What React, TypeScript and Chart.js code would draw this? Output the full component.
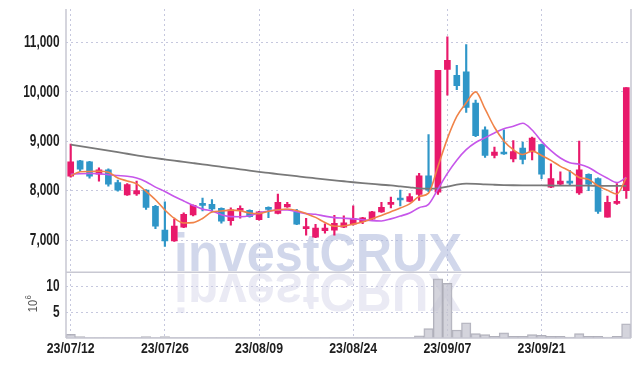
import React, { useEffect, useRef } from 'react';
import { Chart, registerables } from 'chart.js';

Chart.register(...registerables);

const dates = [
  '23/07/12', '23/07/13', '23/07/14', '23/07/17', '23/07/18', '23/07/19', '23/07/20', '23/07/21', '23/07/24', '23/07/25',
  '23/07/26', '23/07/27', '23/07/28', '23/07/31', '23/08/01', '23/08/02', '23/08/03', '23/08/04', '23/08/07', '23/08/08',
  '23/08/09', '23/08/10', '23/08/11', '23/08/14', '23/08/16', '23/08/17', '23/08/18', '23/08/21', '23/08/22', '23/08/23',
  '23/08/24', '23/08/25', '23/08/28', '23/08/29', '23/08/30', '23/08/31', '23/09/01', '23/09/04', '23/09/05', '23/09/06',
  '23/09/07', '23/09/08', '23/09/11', '23/09/12', '23/09/13', '23/09/14', '23/09/15', '23/09/18', '23/09/19', '23/09/20',
  '23/09/21', '23/09/22', '23/09/25', '23/09/26', '23/09/27', '23/10/04', '23/10/05', '23/10/06', '23/10/10', '23/10/11',
];

const openP = [
  8290, 8600, 8580, 8330, 8420, 8160, 7910, 7930, 8010, 7680,
  7200, 6980, 7260, 7510, 7720, 7720, 7640, 7390, 7600, 7600,
  7410, 7640, 7540, 7670, 7570, 7230, 7060, 7190, 7200, 7260,
  7320, 7370, 7420, 7570, 7720, 7830, 7780, 7920, 8300, 7970,
  10450, 10330, 10400, 9770, 9230, 8710, 8760, 8640, 8860, 8780,
  8930, 8070, 8130, 8170, 7950, 8330, 8240, 7460, 7740, 8000,
];
const highP = [
  8940, 8610, 8590, 8460, 8440, 8210, 8140, 8190, 8020, 7700,
  7770, 7420, 7550, 7710, 7850, 7820, 7650, 7650, 7690, 7610,
  7580, 7670, 7930, 7760, 7620, 7440, 7320, 7330, 7500, 7490,
  7690, 7460, 7580, 7760, 7870, 8010, 7940, 8350, 9130, 10430,
  11110, 10530, 10950, 9830, 9290, 8880, 9230, 9010, 8980, 9080,
  8940, 8540, 8380, 8410, 9000, 8340, 8260, 7890, 8140, 10080,
];
const lowP = [
  8270, 8380, 8250, 8190, 8090, 7990, 7900, 7900, 7620, 7230,
  6870, 6970, 7250, 7490, 7590, 7570, 7340, 7300, 7440, 7460,
  7400, 7450, 7530, 7660, 7310, 7100, 7050, 7140, 7100, 7250,
  7300, 7330, 7410, 7560, 7650, 7690, 7770, 7800, 7980, 7920,
  9930, 10040, 9580, 9090, 8670, 8660, 8730, 8580, 8540, 8620,
  8240, 8060, 8120, 8120, 7920, 8000, 7540, 7460, 7720, 7840,
];
const closeP = [
  8580, 8430, 8290, 8420, 8130, 8010, 8120, 8000, 7660, 7280,
  6980, 7280, 7520, 7700, 7700, 7630, 7380, 7610, 7640, 7470,
  7570, 7620, 7760, 7720, 7320, 7250, 7240, 7240, 7340, 7350,
  7440, 7450, 7570, 7660, 7740, 7810, 7880, 8300, 8010, 10430,
  10630, 10120, 9680, 9110, 8710, 8780, 8740, 8790, 8630, 9060,
  8330, 8240, 8190, 8150, 8420, 8130, 7580, 7760, 7760, 10080,
];
const ma5 = [
  8300, 8380, 8385, 8390, 8370, 8256, 8194, 8136, 7984, 7814,
  7608, 7440, 7344, 7352, 7436, 7566, 7586, 7604, 7592, 7546,
  7534, 7582, 7612, 7628, 7598, 7534, 7458, 7354, 7278, 7284,
  7322, 7364, 7430, 7494, 7572, 7646, 7732, 7878, 7948, 8486,
  9050, 9498, 9774, 9994, 9650, 9280, 9004, 8826, 8730, 8800,
  8710, 8610, 8490, 8394, 8266, 8226, 8094, 8008, 7930, 8262,
];
const ma10 = [
  8330, 8340, 8345, 8340, 8320, 8305, 8290, 8255, 8180, 8070,
  7980, 7880, 7790, 7700, 7625, 7587, 7513, 7474, 7472, 7491,
  7550, 7584, 7608, 7610, 7572, 7534, 7520, 7483, 7453, 7441,
  7428, 7411, 7392, 7386, 7428, 7484, 7548, 7654, 7721, 8029,
  8348, 8615, 8826, 8971, 9068, 9165, 9251, 9300, 9362, 9225,
  8995, 8807, 8658, 8562, 8533, 8468, 8352, 8249, 8162, 8264,
];
const maLong = [
  8930, 8899, 8868, 8837, 8806, 8775, 8744, 8713, 8682, 8655,
  8630, 8605, 8580, 8555, 8530, 8505, 8480, 8455, 8430, 8403,
  8378, 8356, 8334, 8312, 8290, 8268, 8248, 8228, 8208, 8188,
  8168, 8150, 8134, 8118, 8105, 8085, 8065, 8045, 8040, 8045,
  8080, 8120, 8140, 8135, 8125, 8118, 8112, 8108, 8106, 8105,
  8103, 8102, 8101, 8100, 8099, 8098, 8097, 8096, 8095, 8094,
];
const volume = [
  0.7, 0.25, 0.08, 0.08, 0.08, 0.08, 0.08, 0.08, 0.25, 0.08,
  0.25, 0.08, 0.08, 0.08, 0.08, 0.08, 0.08, 0.08, 0.08, 0.08,
  0.08, 0.08, 0.08, 0.08, 0.08, 0.08, 0.08, 0.08, 0.08, 0.08,
  0.08, 0.08, 0.08, 0.08, 0.08, 0.08, 0.08, 0.4, 1.8, 11.4,
  10.55, 1.55, 2.95, 0.85, 0.65, 0.3, 1.0, 0.3, 0.3, 0.65,
  0.5, 0.3, 0.3, 0.2, 0.85, 0.3, 0.3, 0.2, 0.3, 2.75,
];
const priceTicks = [7000, 8000, 9000, 10000, 11000];
const volumeTicks = [5, 10];

const RED = '#e8196b';
const BLUE = '#2f96c8';
const GRID = '#c6c8de';
const FRAME = '#c8c8d2';
const LABEL_FONT = "'Liberation Sans', Arial, sans-serif";

export default function App() {
  const ref = useRef<HTMLCanvasElement | null>(null);

  useEffect(() => {
    if (!ref.current) return;
    const colors = closeP.map((c, i) => (c >= openP[i] ? RED : BLUE));
    const bodies = openP.map((o, i) => [o, closeP[i]]);
    const wicks = lowP.map((l, i) => [l, highP[i]]);

    const drawText = (ctx: any, text: string, x: number, y: number, sx: number, align: 'right' | 'center') => {
      const w = ctx.measureText(text).width * sx;
      const left = align === 'right' ? x - w : x - w / 2;
      ctx.save();
      ctx.translate(left, y);
      ctx.scale(sx, 1);
      ctx.fillText(text, 0, 0);
      ctx.restore();
    };

    const watermark = {
      id: 'watermark',
      beforeDatasetsDraw(chart: any) {
        const ctx = chart.ctx;
        const y = chart.scales.y;
        const text = 'investCRUX';
        ctx.save();
        ctx.font = "bold 54px 'Liberation Sans', Arial, sans-serif";
        const w = ctx.measureText(text).width;
        const sx = 288 / w;
        ctx.translate(174, y.bottom - 1);
        ctx.scale(sx, 1);
        ctx.textBaseline = 'alphabetic';
        ctx.fillStyle = 'rgba(172,182,218,0.55)';
        ctx.fillText(text, 0, 0);
        ctx.scale(1, -1);
        ctx.fillStyle = 'rgba(205,205,228,0.42)';
        ctx.fillText(text, 0, -3);
        ctx.restore();
      },
    };

    const frame = {
      id: 'frame',
      afterDraw(chart: any) {
        const ctx = chart.ctx;
        const a = chart.chartArea;
        const y = chart.scales.y;
        const v = chart.scales.y2;
        const x = chart.scales.x;
        ctx.save();
        ctx.strokeStyle = FRAME;
        ctx.lineWidth = 1.5;
        ctx.beginPath();
        ctx.moveTo(a.left, a.top);
        ctx.lineTo(a.left, a.bottom);
        ctx.moveTo(a.right, a.top);
        ctx.lineTo(a.right, a.bottom);
        ctx.moveTo(a.left, y.bottom);
        ctx.lineTo(a.right, y.bottom);
        ctx.moveTo(a.left, a.bottom);
        ctx.lineTo(a.right, a.bottom);
        ctx.stroke();

        // tick labels
        ctx.fillStyle = '#1e1e1e';
        ctx.textBaseline = 'middle';
        ctx.font = `bold 16px ${LABEL_FONT}`;
        priceTicks.forEach((t) => {
          drawText(ctx, t.toLocaleString('en-US'), a.left - 6.5, y.getPixelForValue(t) + 0.5, 0.74, 'right');
        });
        volumeTicks.forEach((t) => {
          drawText(ctx, String(t), a.left - 6.5, v.getPixelForValue(t) + 0.5, 0.74, 'right');
        });
        ctx.font = `bold 14px ${LABEL_FONT}`;
        dates.forEach((d, i) => {
          if (i % 10 !== 0) return;
          drawText(ctx, d, x.getPixelForValue(i), a.bottom + 11.5, 0.88, 'center');
        });

        // volume unit label
        ctx.fillStyle = '#555';
        ctx.textBaseline = 'alphabetic';
        ctx.translate(37, v.top + 40);
        ctx.rotate(-Math.PI / 2);
        ctx.font = `13px ${LABEL_FONT}`;
        ctx.scale(0.85, 1);
        ctx.fillText('10', 0, 0);
        const w10 = ctx.measureText('10').width;
        ctx.font = `9px ${LABEL_FONT}`;
        ctx.fillText('6', w10 + 0.5, -6);
        ctx.restore();
      },
    };

    const fixPad = (s: any) => {
      s.paddingTop = 0;
      s.paddingBottom = 0;
      s.paddingLeft = 0;
      s.paddingRight = 0;
    };

    const chart = new Chart(ref.current, {
      data: {
        labels: dates,
        datasets: [
          { type: 'line', label: 'MA5', data: ma5, borderColor: '#f08348', borderWidth: 1.6, pointRadius: 0, cubicInterpolationMode: 'monotone', yAxisID: 'y', order: 0 },
          { type: 'line', label: 'MA10', data: ma10, borderColor: '#c656ea', borderWidth: 1.6, pointRadius: 0, cubicInterpolationMode: 'monotone', yAxisID: 'y', order: 0 },
          { type: 'line', label: 'MA', data: maLong, borderColor: '#797979', borderWidth: 1.8, pointRadius: 0, cubicInterpolationMode: 'monotone', yAxisID: 'y', order: 0 },
          { type: 'bar', label: 'body', data: bodies, backgroundColor: colors, borderWidth: 0, barThickness: 6, minBarLength: 2, grouped: false, yAxisID: 'y', order: 1 },
          { type: 'bar', label: 'wick', data: wicks, backgroundColor: colors, borderWidth: 0, barThickness: 1.5, grouped: false, yAxisID: 'y', order: 2 },
          { type: 'bar', label: 'vol', data: volume, backgroundColor: 'rgba(198,198,208,0.75)', borderColor: 'rgba(168,168,180,0.9)', borderWidth: 1, barPercentage: 1, categoryPercentage: 1, grouped: false, yAxisID: 'y2', order: 3 },
        ] as any,
      },
      options: {
        animation: false,
        responsive: true,
        maintainAspectRatio: false,
        devicePixelRatio: 1,
        layout: { padding: { top: 9, right: 8, left: 0, bottom: 0 } },
        plugins: { legend: { display: false }, tooltip: { enabled: false } },
        scales: {
          x: {
            type: 'category',
            offset: true,
            grid: {
              offset: false,
              drawTicks: false,
              color: (c: any) => (c.index % 10 === 0 ? GRID : 'rgba(0,0,0,0)'),
            },
            border: { display: false, dash: [2, 3] },
            ticks: { display: false, autoSkip: false, maxRotation: 0 },
            afterFit: (s: any) => { s.height = 28; fixPad(s); },
          },
          y2: {
            type: 'linear',
            position: 'left',
            stack: 'main',
            stackWeight: 1,
            min: 0,
            max: 12.7,
            afterBuildTicks: (s: any) => { s.ticks = volumeTicks.map((v) => ({ value: v })); },
            grid: { color: GRID, drawTicks: false },
            border: { display: false, dash: [2, 3] },
            ticks: { display: false },
            afterFit: (s: any) => { s.width = 66; fixPad(s); },
          },
          y: {
            type: 'linear',
            position: 'left',
            stack: 'main',
            stackWeight: 4,
            min: 6350,
            max: 11670,
            afterBuildTicks: (s: any) => { s.ticks = priceTicks.map((v) => ({ value: v })); },
            grid: { color: GRID, drawTicks: false },
            border: { display: false, dash: [2, 3] },
            ticks: { display: false },
            afterFit: (s: any) => { s.width = 66; fixPad(s); },
          },
        },
      } as any,
      plugins: [watermark, frame],
    });
    return () => chart.destroy();
  }, []);

  return (
    <div style={{ position: 'fixed', left: 0, top: 0, width: 639, height: 366 }}>
      <canvas ref={ref} />
    </div>
  );
}
